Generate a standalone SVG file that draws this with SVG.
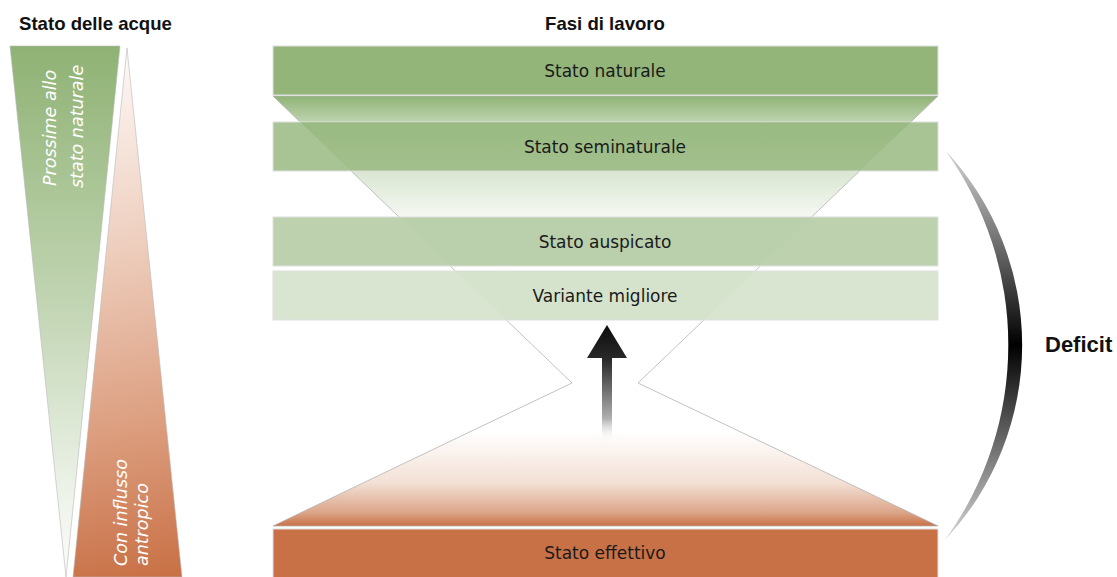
<svg xmlns="http://www.w3.org/2000/svg" width="1117" height="577" viewBox="0 0 1117 577">
<style>
.hdr{font-family:"Liberation Sans",Arial,sans-serif;font-weight:bold;font-size:18.6px;fill:#111}
.lbl{font-family:"DejaVu Sans","Liberation Sans",sans-serif;font-size:17px;fill:#1a1a1a;text-anchor:middle}
.it{font-family:"DejaVu Sans","Liberation Sans",sans-serif;font-style:italic;font-weight:300;font-size:17.5px;fill:#fff}
.bar{stroke:#e0e0e0;stroke-width:1}
.edge{fill:none;stroke:#b3b3b3;stroke-width:0.8}
</style>
<defs>
<linearGradient id="gGreenTri" gradientUnits="userSpaceOnUse" x1="0" y1="46" x2="0" y2="577">
<stop offset="0" stop-color="#8fb274"/>
<stop offset="0.5" stop-color="#c3d6b5"/>
<stop offset="0.85" stop-color="#eef3ea"/>
<stop offset="1" stop-color="#fbfcfa"/>
</linearGradient>
<linearGradient id="gOrangeTri" gradientUnits="userSpaceOnUse" x1="95" y1="60" x2="190" y2="577">
<stop offset="0" stop-color="#fdf8f5"/>
<stop offset="0.35" stop-color="#eecfbf"/>
<stop offset="0.7" stop-color="#dc9e7f"/>
<stop offset="1" stop-color="#c86f44"/>
</linearGradient>
<linearGradient id="gHour" gradientUnits="userSpaceOnUse" x1="0" y1="96" x2="0" y2="526">
<stop offset="0" stop-color="#90b376"/>
<stop offset="0.058" stop-color="#bcd2ad"/>
<stop offset="0.174" stop-color="#d9e6d1"/>
<stop offset="0.277" stop-color="#f4f7f1"/>
<stop offset="0.42" stop-color="#ffffff"/>
<stop offset="0.78" stop-color="#ffffff"/>
<stop offset="0.9" stop-color="#f3e0d5"/>
<stop offset="0.97" stop-color="#dba487"/>
<stop offset="1" stop-color="#c87146"/>
</linearGradient>
<linearGradient id="gOver" gradientUnits="userSpaceOnUse" x1="0" y1="122" x2="0" y2="171">
<stop offset="0" stop-color="#7ea760" stop-opacity="0.35"/>
<stop offset="1" stop-color="#7ea760" stop-opacity="0.15"/>
</linearGradient>
<linearGradient id="gArrow" gradientUnits="userSpaceOnUse" x1="0" y1="325" x2="0" y2="442">
<stop offset="0" stop-color="#0d0d0d"/>
<stop offset="0.3" stop-color="#2a2a2a"/>
<stop offset="0.8" stop-color="#b0b0b0"/>
<stop offset="1" stop-color="#ffffff" stop-opacity="0"/>
</linearGradient>
<linearGradient id="gArc" gradientUnits="userSpaceOnUse" x1="0" y1="150" x2="0" y2="540">
<stop offset="0" stop-color="#d5d5d5"/>
<stop offset="0.3" stop-color="#555"/>
<stop offset="0.5" stop-color="#000"/>
<stop offset="0.7" stop-color="#555"/>
<stop offset="1" stop-color="#d5d5d5"/>
</linearGradient>
<clipPath id="cHour">
<polygon points="273,96 938,96 638,383 938,526 273,526 572,383"/>
</clipPath>
</defs>

<rect width="1117" height="577" fill="#ffffff"/>

<g id="title-left"><text class="hdr" x="19" y="30">Stato delle acque</text></g>
<g id="title-right"><text class="hdr" x="605" y="30" text-anchor="middle">Fasi di lavoro</text></g>

<g id="tri-natural">
<polygon points="10,46 120,46 66,577" fill="url(#gGreenTri)" stroke="#b8b8b8" stroke-width="0.6"/>
<text class="it" transform="translate(56,186) rotate(-90)">Prossime allo</text>
<text class="it" transform="translate(83,188) rotate(-90)">stato naturale</text>
</g>

<g id="tri-anthropic">
<polygon points="127,48 182,577 73,577" fill="url(#gOrangeTri)" stroke="#b8b8b8" stroke-width="0.6"/>
<text class="it" transform="translate(127,566) rotate(-90)">Con influsso</text>
<text class="it" transform="translate(148,566) rotate(-90)">antropico</text>
</g>

<g id="hourglass">
<polygon points="273,96 938,96 638,383 938,526 273,526 572,383" fill="url(#gHour)"/>
<polygon class="edge" points="273,96 938,96 638,383 938,526 273,526 572,383"/>
</g>

<g id="stato-naturale">
<rect class="bar" x="273" y="46" width="665" height="49" fill="#93b57a"/>
<text class="lbl" x="605" y="77">Stato naturale</text>
</g>

<g id="stato-seminaturale">
<rect class="bar" x="273" y="122" width="665" height="49" fill="#a8c494"/>
<rect x="273" y="122" width="665" height="49" fill="url(#gOver)" clip-path="url(#cHour)"/>
<text class="lbl" x="605" y="153">Stato seminaturale</text>
</g>

<g id="stato-auspicato">
<rect class="bar" x="273" y="217" width="665" height="49" fill="#bdd1ae"/>
<rect x="273" y="217" width="665" height="49" fill="#9bbd80" fill-opacity="0.06" clip-path="url(#cHour)"/>
<text class="lbl" x="605" y="248">Stato auspicato</text>
</g>

<g id="variante-migliore">
<rect class="bar" x="273" y="271" width="665" height="49" fill="#d9e5d0"/>
<rect x="273" y="271" width="665" height="49" fill="#9bbd80" fill-opacity="0.05" clip-path="url(#cHour)"/>
<text class="lbl" x="605" y="302">Variante migliore</text>
</g>

<g id="stato-effettivo">
<rect class="bar" x="273" y="529" width="665" height="49" fill="#c87146"/>
<text class="lbl" x="605" y="559">Stato effettivo</text>
</g>

<g id="connectors">
<path id="arrow-up" d="M607,325 L627,358 L612,358 L612,442 L602,442 L602,358 L587,358 Z" fill="url(#gArrow)"/>
<path id="deficit-arc" d="M945,150 A285,285 0 0 1 945,540 A332,332 0 0 0 945,150 Z" fill="url(#gArc)"/>
</g>

<g id="deficit"><text class="hdr" x="1045" y="352" style="font-size:22px">Deficit</text></g>
</svg>
